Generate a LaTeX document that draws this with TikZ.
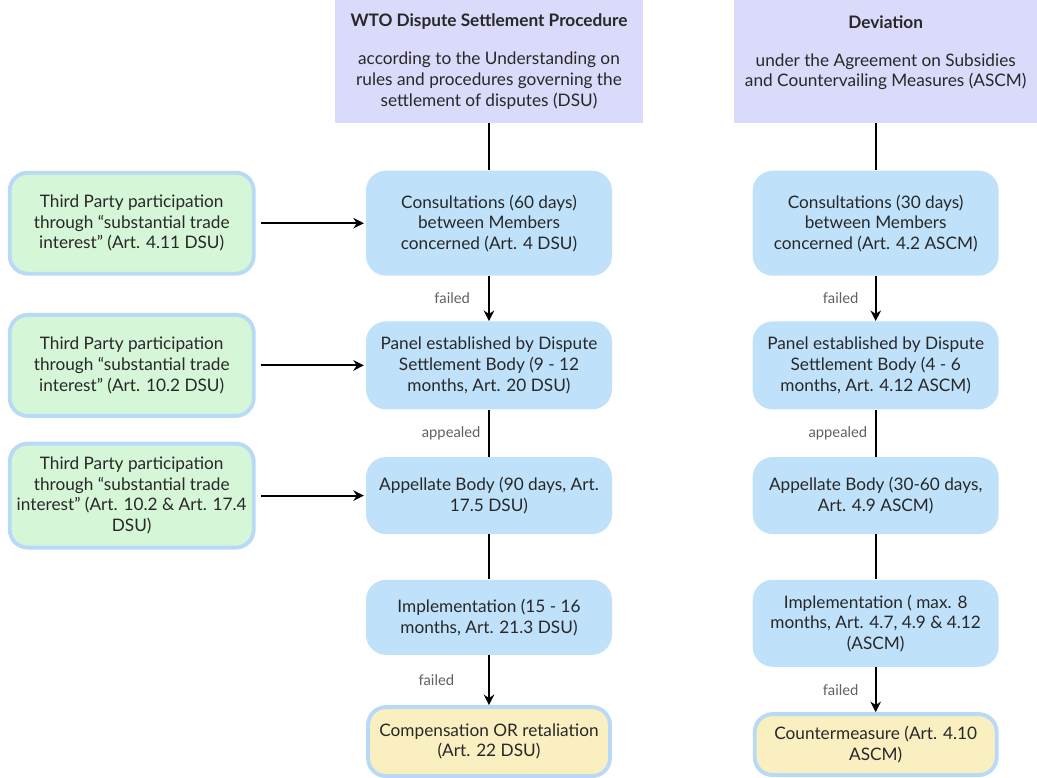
\documentclass[tikz,border=0pt]{standalone}
\usepackage{fontspec}
\setmainfont{Lato}
\usetikzlibrary{shapes.geometric, arrows.meta, positioning}
\definecolor{headfill}{RGB}{218,218,250}
\definecolor{stagefill}{RGB}{191,226,250}
\definecolor{partyfill}{RGB}{214,246,216}
\definecolor{endfill}{RGB}{250,239,192}
\definecolor{rimblue}{RGB}{184,218,246}
\definecolor{inkgray}{RGB}{40,40,40}
\tikzstyle{header}  = [rectangle, minimum height=2.46cm, align=center, fill=headfill, text=inkgray, font=\fontsize{9.8}{11.7}\selectfont]
\tikzstyle{stage}   = [rectangle, rounded corners=0.4cm, minimum width=4.92cm, align=center, fill=stagefill, text=inkgray, font=\fontsize{9.8}{11.7}\selectfont]
\tikzstyle{party}   = [rectangle, rounded corners=0.36cm, minimum width=4.88cm, minimum height=2.02cm, align=center, fill=partyfill, draw=rimblue, line width=2.2pt, text=inkgray, font=\fontsize{9.8}{11.7}\selectfont]
\tikzstyle{outcome} = [rectangle, rounded corners=0.36cm, minimum width=4.84cm, align=center, fill=endfill, draw=rimblue, line width=2.2pt, text=inkgray, font=\fontsize{9.8}{11.7}\selectfont]
\tikzstyle{arrow}   = [line width=1.1pt, ->, >={Stealth[length=6pt, width=6pt]}]
\tikzstyle{link}    = [line width=1.1pt]
\tikzstyle{lbl}     = [text=gray!75!black, font=\fontsize{8.4}{10}\selectfont]

\begin{document}
\begin{tikzpicture}
\useasboundingbox (0,0) rectangle (20.74,-15.56);

% Cabeçalhos
\node (headL) [header, minimum width=6.16cm] at (9.78,-1.23) {\textbf{WTO Dispute Settlement Procedure}\\[10pt] according to the Understanding on\\rules and procedures governing the\\settlement of disputes (DSU)};
\node (headR) [header, minimum width=6.08cm, right=1.8cm of headL] {\textbf{Deviation}\\[10pt] under the Agreement on Subsidies\\and Countervailing Measures (ASCM)\\ ~};

% Coluna DSU
\node (consultL) [stage, minimum height=2.1cm, below=0.94cm of headL] {Consultations (60 days)\\between Members\\concerned (Art. 4 DSU)};
\node (panelL)   [stage, minimum height=1.76cm, below=0.9cm of consultL] {Panel established by Dispute\\Settlement Body (9 - 12\\months, Art. 20 DSU)};
\node (appealL)  [stage, minimum height=1.54cm, below=0.94cm of panelL] {Appellate Body (90 days, Art.\\17.5 DSU)};
\node (implL)    [stage, minimum height=1.5cm, below=0.9cm of appealL] {Implementation (15 - 16\\months, Art. 21.3 DSU)};
\node (compL)    [outcome, minimum height=1.38cm, below=1cm of implL] {Compensation OR retaliation\\(Art. 22 DSU)};

% Coluna ASCM
\node (consultR) [stage, minimum height=2.1cm, below=0.94cm of headR, xshift=-0.2cm] {Consultations (30 days)\\between Members\\concerned (Art. 4.2 ASCM)};
\node (panelR)   [stage, minimum height=1.76cm, below=0.9cm of consultR] {Panel established by Dispute\\Settlement Body (4 - 6\\months, Art. 4.12 ASCM)};
\node (appealR)  [stage, minimum height=1.54cm, below=0.94cm of panelR] {Appellate Body (30-60 days,\\Art. 4.9 ASCM)};
\node (implR)    [stage, minimum height=1.74cm, below=0.9cm of appealR] {Implementation ( max. 8\\months, Art. 4.7, 4.9 \& 4.12\\(ASCM)};
\node (counterR) [outcome, minimum height=1.22cm, below=0.9cm of implR] {Countermeasure (Art. 4.10\\ASCM)};

% Terceiros
\node (tp1) [party, left=2.2cm of consultL] {Third Party participation\\through “substantial trade\\interest” (Art. 4.11 DSU)};
\node (tp2) [party, left=2.2cm of panelL] {Third Party participation\\through “substantial trade\\interest” (Art. 10.2 DSU)};
\node (tp3) [party, left=2.2cm of appealL, minimum height=2.08cm] {Third Party participation\\through “substantial trade\\interest” (Art. 10.2 \& Art. 17.4\\DSU)};

% Ligações DSU
\draw [link] (headL) -- (consultL);
\draw [arrow] (consultL) -- node[lbl, left=7pt] {failed} (panelL);
\draw [link] (panelL) -- node[lbl, left=1pt] {appealed} (appealL);
\draw [link] (appealL) -- (implL);
\draw [arrow] (implL) -- node[lbl, left=16pt] {failed} (compL);

% Ligações ASCM
\draw [link] (consultR.north) -- (consultR.north |- headR.south);
\draw [arrow] (consultR) -- node[lbl, left=6pt] {failed} (panelR);
\draw [link] (panelR) -- node[lbl, left=1pt] {appealed} (appealR);
\draw [link] (appealR) -- (implR);
\draw [arrow] (implR) -- node[lbl, left=6pt] {failed} (counterR);

% Setas dos terceiros
\draw [arrow, shorten <=3pt, shorten >=1pt] (tp1) -- (consultL);
\draw [arrow, shorten <=3pt, shorten >=1pt] (tp2) -- (panelL);
\draw [arrow, shorten <=3pt, shorten >=1pt] (tp3) -- (appealL);

\end{tikzpicture}
\end{document}
